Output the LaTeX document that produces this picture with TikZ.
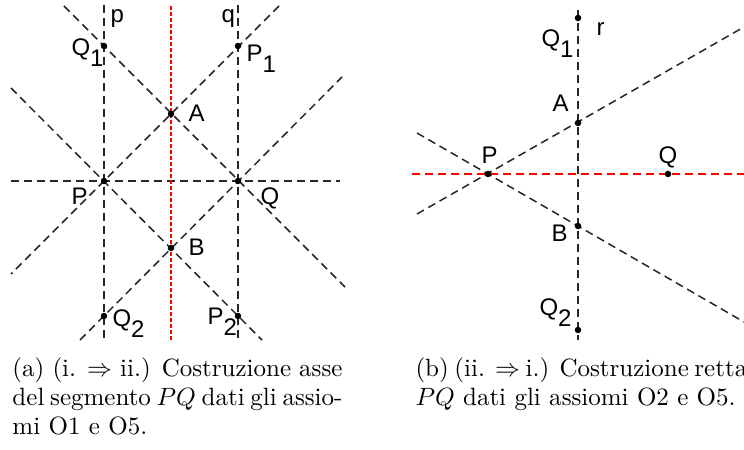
\documentclass[tikz,border=0pt]{standalone}
\usepackage{fontspec}
\newfontfamily\lblfont{Liberation Sans}
\newcommand\lsub[1]{\raisebox{-4.2pt}{#1}}
\begin{document}
\begin{tikzpicture}[x=0.4pt,y=-0.4pt,
  guide/.style={draw=black!85, line width=0.6pt, dash pattern=on 3.2pt off 2pt},
  redfine/.style={draw=red, line width=0.6pt, dash pattern=on 1.6pt off 0.8pt},
  redline/.style={draw=red, line width=0.6pt, dash pattern=on 3.2pt off 2pt},
  dot/.style={circle, fill=black, inner sep=0pt, minimum size=2.6pt},
  lab/.style={font=\lblfont\fontsize{9.6}{11}\selectfont, inner sep=0pt, anchor=base west},
  captext/.style={font=\fontsize{10}{11.6}\selectfont, inner sep=0pt, anchor=base west}]
\useasboundingbox (0,0) rectangle (744,450);
% ---------- panel (a) ----------
\coordinate (pT) at (104,5);   \coordinate (pB) at (104,340);
\coordinate (qT) at (238,5);   \coordinate (qB) at (238,340);
\coordinate (mT) at (171,6);   \coordinate (mB) at (171,340);
\coordinate (hL) at (11,181);  \coordinate (hR) at (340,181);
\coordinate (d1a) at (64,6);   \coordinate (d1b) at (345,287);
\coordinate (d2a) at (279,6);  \coordinate (d2b) at (11,274);
\coordinate (d3a) at (11,88);  \coordinate (d3b) at (262,340);
\coordinate (d4a) at (80,340); \coordinate (d4b) at (342,77);
\draw[guide] (pT) -- (pB);
\draw[guide] (qT) -- (qB);
\draw[guide] (hL) -- (hR);
\draw[guide] (d1a) -- (d1b);
\draw[guide] (d2a) -- (d2b);
\draw[guide] (d3a) -- (d3b);
\draw[guide] (d4a) -- (d4b);
\draw[redfine] (mT) -- (mB);
\node[dot] (Pa) at (104,181) {};
\node[dot] (Qa) at (238,181) {};
\node[dot] (Aa) at (171,114) {};
\node[dot] (Ba) at (171,248) {};
\node[dot] (Q1a) at (104,46) {};
\node[dot] (P1a) at (238,46) {};
\node[dot] (Q2a) at (104,316) {};
\node[dot] (P2a) at (238,316) {};
\node[lab] (lp) at (110,23) {p};
\node[lab] (lq) at (221,23) {q};
\node[lab] (lQ1a) at (71,56) {Q\lsub{1}};
\node[lab] (lP1a) at (246,62) {P\lsub{1}};
\node[lab] (lAa) at (188,122) {A};
\node[lab] (lPa) at (71,205) {P};
\node[lab] (lQa) at (260,205) {Q};
\node[lab] (lBa) at (188,256) {B};
\node[lab] (lQ2a) at (112,327) {Q\lsub{2}};
\node[lab] (lP2a) at (207,325) {P\lsub{2}};
% ---------- panel (b) ----------
\coordinate (rT) at (578,10);   \coordinate (rB) at (578,340);
\coordinate (kL) at (412,174);  \coordinate (kR) at (744,174);
\coordinate (e1a) at (417,214); \coordinate (e1b) at (744,27);
\coordinate (e2a) at (417,133); \coordinate (e2b) at (744,322);
\draw[guide] (rT) -- (rB);
\draw[guide] (e1a) -- (e1b);
\draw[guide] (e2a) -- (e2b);
\draw[redline] (kL) -- (kR);
\node[dot] (Pb) at (488,174) {};
\node[dot] (Qb) at (668,174) {};
\node[dot] (Ab) at (578,123) {};
\node[dot] (Bb) at (578,226) {};
\node[dot] (Q1b) at (578,18) {};
\node[dot] (Q2b) at (578,330) {};
\node[lab] (lr) at (596,36) {r};
\node[lab] (lQ1b) at (541,47) {Q\lsub{1}};
\node[lab] (lAb) at (552,112) {A};
\node[lab] (lPb) at (481,164) {P};
\node[lab] (lQb) at (658,164) {Q};
\node[lab] (lBb) at (551,242) {B};
\node[lab] (lQ2b) at (539,316) {Q\lsub{2}};
% ---------- captions ----------
\node[captext] (capa) at (12,377) {\parbox[t]{132pt}{%
  \makebox[132pt][s]{(a) (i. $\Rightarrow$ ii.) Costruzione asse}\par
  \makebox[132pt][s]{del segmento $PQ$ dati gli assio-}\par
  mi O1 e O5.}};
\node[captext] (capb) at (415,377) {\parbox[t]{130pt}{%
  \makebox[130pt][s]{(b) (ii. $\Rightarrow$ i.) Costruzione retta}\par
  $PQ$ dati gli assiomi O2 e O5.}};
\end{tikzpicture}
\end{document}
